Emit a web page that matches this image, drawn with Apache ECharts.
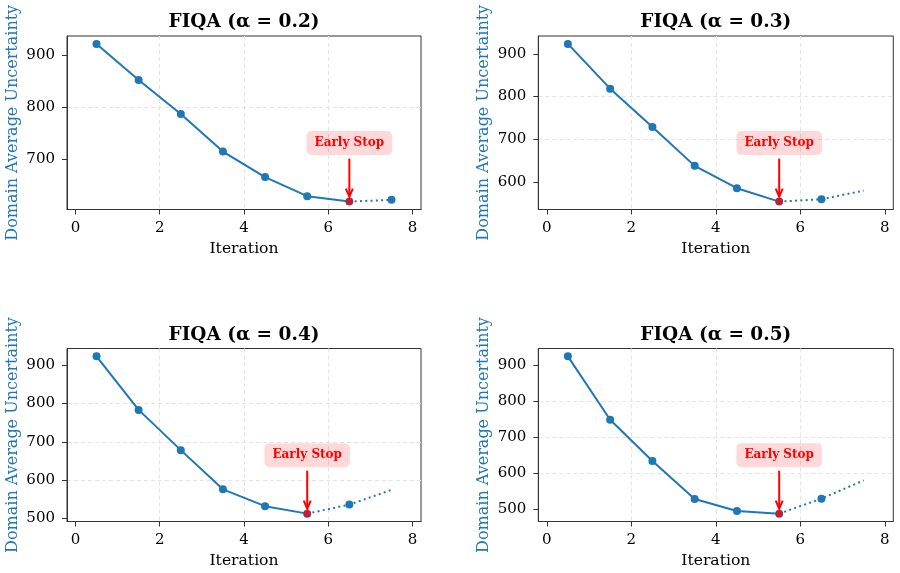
<!DOCTYPE html>
<html lang="en">
<head>
    <meta charset="UTF-8">
    <title>FIQA early stop</title>
    <style>
        html, body { margin: 0; padding: 0; background: #fff; }
    </style>
</head>
<body>

<div id="main" style="width: 900px;height:573px;"></div>

</body>
<script src="https://cdn.jsdelivr.net/npm/echarts@6/dist/echarts.min.js"></script>
<script type="text/javascript">
    // data
    var iterations = [0.5, 1.5, 2.5, 3.5, 4.5, 5.5, 6.5, 7.5];
    var alphaLabels = ['0.2', '0.3', '0.4', '0.5'];
    var uncAlpha02 = [922.7, 852.8, 786.8, 714.0, 664.5, 627.5, 617.0, 620.4];
    var uncAlpha03 = [923.5, 818.5, 728.6, 637.6, 585.2, 553.8, 559.3, 579.6];
    var uncAlpha04 = [923.6, 783.5, 678.2, 575.6, 531.5, 512.0, 535.6, 574.2];
    var uncAlpha05 = [923.9, 748.0, 633.3, 527.8, 494.4, 487.0, 528.6, 579.4];
    var stopIndex = [6, 5, 5, 5];
    var xTicks = [0, 2, 4, 6, 8];
    var yTicks = [500, 600, 700, 800, 900];

    var allSeries = [uncAlpha02, uncAlpha03, uncAlpha04, uncAlpha05];

    var BLUE = '#1f77b4';
    var FONT = '"DejaVu Serif", "Liberation Serif", serif';

    // plot boxes
    var boxes = [
        {left: 67, top: 36, width: 354, height: 173.5},
        {left: 538.3, top: 36, width: 355, height: 173.5},
        {left: 67, top: 348.5, width: 354, height: 173},
        {left: 538.3, top: 348.5, width: 355, height: 173}
    ];

    var grid = [], xAxis = [], yAxis = [], series = [], title = [];

    allSeries.forEach(function (vals, i) {
        var b = boxes[i];
        grid.push({
            left: b.left, top: b.top, width: b.width, height: b.height,
            show: true, borderColor: '#333', borderWidth: 1, containLabel: false
        });

        title.push({
            text: 'FIQA (α = ' + alphaLabels[i] + ')',
            left: b.left + b.width / 2,
            top: i < 2 ? 12.5 : 325.5,
            textAlign: 'center',
            padding: 0,
            textStyle: {fontFamily: FONT, fontWeight: 'bold', fontSize: 18.5, color: '#000'}
        });

        // matplotlib style 5% margin on y
        var lo = Math.min.apply(null, vals), hi = Math.max.apply(null, vals);
        var pad = (hi - lo) * 0.05;
        var yMin = lo - pad, yMax = hi + pad;
        var yShown = yTicks.filter(function (t) { return t >= yMin && t <= yMax; });

        xAxis.push({
            type: 'value', gridIndex: i, min: -0.2, max: 8.2,
            minInterval: 2, maxInterval: 2,
            name: 'Iteration', nameLocation: 'middle', nameGap: 31.5,
            nameTextStyle: {fontFamily: FONT, fontSize: 15.6, color: '#000'},
            axisLine: {show: true, onZero: false, lineStyle: {color: '#333', width: 1}},
            axisTick: {show: true, length: 5, customValues: xTicks, lineStyle: {color: '#333'}},
            axisLabel: {customValues: xTicks, margin: 11, fontFamily: FONT, fontSize: 15, color: '#000'},
            splitLine: {show: true, showMinLine: false, showMaxLine: false,
                lineStyle: {color: '#e3e3e3', type: [4, 3], width: 1}}
        });

        yAxis.push({
            type: 'value', gridIndex: i, min: yMin, max: yMax,
            minInterval: 100, maxInterval: 100,
            name: 'Domain Average Uncertainty', nameLocation: 'middle', nameGap: 46, nameRotate: 90,
            nameTextStyle: {fontFamily: FONT, fontSize: 16, color: BLUE},
            axisLine: {show: true, onZero: false, lineStyle: {color: '#333', width: 1}},
            axisTick: {show: true, length: 5, customValues: yShown, lineStyle: {color: '#333'}},
            axisLabel: {customValues: yShown, margin: 12, fontFamily: FONT, fontSize: 15, color: '#000'},
            splitLine: {show: true, showMinLine: false, showMaxLine: false,
                lineStyle: {color: '#e3e3e3', type: [4, 3], width: 1}}
        });

        var s = stopIndex[i];
        var solid = [], dotted = [];
        iterations.forEach(function (x, k) {
            if (k <= s) solid.push([x, vals[k]]);
            if (k >= s) dotted.push({value: [x, vals[k]], symbol: k === s + 1 ? 'circle' : 'none'});
        });

        series.push({
            type: 'line', xAxisIndex: i, yAxisIndex: i, data: solid,
            symbol: 'circle', symbolSize: 8, showSymbol: true,
            lineStyle: {color: BLUE, width: 2}, itemStyle: {color: BLUE},
            z: 3
        });
        series.push({
            type: 'line', xAxisIndex: i, yAxisIndex: i, data: dotted,
            symbolSize: 8, showSymbol: true,
            lineStyle: {color: BLUE, width: 2, type: [2, 3.3], cap: 'butt'}, itemStyle: {color: BLUE},
            z: 2
        });
        series.push({
            type: 'scatter', xAxisIndex: i, yAxisIndex: i,
            data: [[iterations[s], vals[s]]],
            symbol: 'circle', symbolSize: 7, itemStyle: {color: '#ff0000'},
            z: 5
        });
        // "Early Stop" annotation with arrow pointing at the stop point
        series.push({
            type: 'custom', xAxisIndex: i, yAxisIndex: i,
            data: [[iterations[s], vals[s]]],
            clip: false, z: 6,
            renderItem: function (params, api) {
                var p = api.coord([api.value(0), api.value(1)]);
                return {
                    type: 'group',
                    children: [
                        {type: 'line', shape: {x1: p[0], y1: p[1] - 43, x2: p[0], y2: p[1] - 5},
                            style: {stroke: '#ff0000', lineWidth: 2}},
                        {type: 'polyline', shape: {points: [[p[0] - 3.5, p[1] - 13], [p[0], p[1] - 5], [p[0] + 3.5, p[1] - 13]]},
                            style: {stroke: '#ff0000', lineWidth: 2, fill: null}},
                        {type: 'text', x: p[0], y: p[1] - 58.5,
                            style: {
                                text: 'Early Stop', fill: '#ff0000',
                                font: 'bold 12px ' + FONT,
                                align: 'center', verticalAlign: 'middle',
                                backgroundColor: 'rgba(255,0,0,0.15)',
                                padding: [6, 8], borderRadius: 5
                            }}
                    ]
                };
            }
        });
    });

    var myChart = echarts.init(document.getElementById('main'));
    myChart.setOption({
        animation: false,
        backgroundColor: '#fff',
        title: title,
        grid: grid,
        xAxis: xAxis,
        yAxis: yAxis,
        series: series
    });
</script>
</html>
